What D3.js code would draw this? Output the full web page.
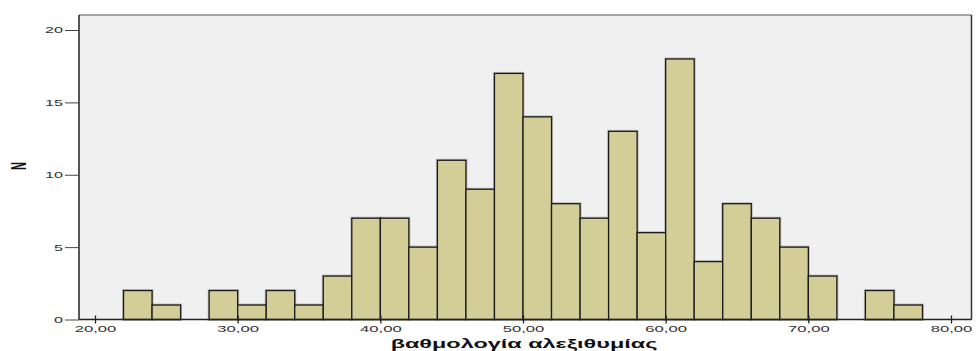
<!DOCTYPE html>
<html><head><meta charset="utf-8">
<script src="https://cdn.jsdelivr.net/npm/d3@7"></script>
<style>body{margin:0;background:#fff}svg{display:block}</style>
</head><body>
<script>
const binStarts = [22,24,26,28,30,32,34,36,38,40,42,44,46,48,50,52,54,56,58,60,62,64,66,68,70,72,74,76];
const counts    = [2,1,0,2,1,2,1,3,7,7,5,11,9,17,14,8,7,13,6,18,4,8,7,5,3,0,2,1];
const binWidth = 2;
const xTicks = [20,30,40,50,60,70,80];
const yTicks = [0,5,10,15,20];
const xTitle = "βαθμολογία αλεξιθυμίας";
const yTitle = "N";

(function(){
const W = 977, H = 351;
const FONT = "Liberation Sans, Arial, sans-serif";
const svg = d3.select("body").append("svg").attr("width", W).attr("height", H);
const x = d3.scaleLinear().domain([20, 80]).range([95, 951]);
const y = d3.scaleLinear().domain([0, 20]).range([319.5, 30]);
const pL = 79, pR = 971.5, pT = 15, pB = 319.5;

// horizontal stretch around anchor x
function stretch(sel, sx) {
  sel.each(function() {
    const ax = +(this.getAttribute("x") || 0);
    this.setAttribute("transform", `translate(${ax},0) scale(${sx},1) translate(${-ax},0)`);
  });
}

svg.append("rect").attr("x", pL).attr("y", pT).attr("width", pR-pL).attr("height", pB-pT)
  .attr("fill", "#f0f0f0");
svg.append("line").attr("x1", pL).attr("x2", pR).attr("y1", pT).attr("y2", pT)
  .attr("stroke", "#8a8a8a").attr("stroke-width", 1.5);
svg.append("line").attr("x1", pR).attr("x2", pR).attr("y1", pT).attr("y2", pB)
  .attr("stroke", "#333").attr("stroke-width", 1.5);

const data = binStarts.map((s, i) => ({s, c: counts[i]})).filter(d => d.c > 0);
svg.append("g").selectAll("rect").data(data).join("rect")
  .attr("x", d => x(d.s)).attr("y", d => y(d.c))
  .attr("width", d => x(d.s + binWidth) - x(d.s)).attr("height", d => y(0) - y(d.c))
  .attr("fill", "none").attr("stroke", "#9a9a9a").attr("stroke-width", 3).attr("opacity", 0.6);
svg.append("g").selectAll("rect").data(data).join("rect")
  .attr("x", d => x(d.s)).attr("y", d => y(d.c))
  .attr("width", d => x(d.s + binWidth) - x(d.s)).attr("height", d => y(0) - y(d.c))
  .attr("fill", "#d3ce97").attr("stroke", "#1a1a1a").attr("stroke-width", 1.3);

const yAxis = svg.append("g").attr("transform", `translate(${pL},0)`)
  .call(d3.axisLeft(y).tickValues(yTicks).tickSize(14).tickPadding(2).tickFormat(d3.format("d")));
yAxis.select(".domain").attr("d", `M0,${pT}V${pB}`).attr("stroke", "#222").attr("stroke-width", 1.5);
yAxis.selectAll(".tick line").attr("stroke", "#444");
yAxis.selectAll("text").attr("font-family", FONT).attr("font-size", 9).attr("fill", "#333");
stretch(yAxis.selectAll("text"), 1.8);

const xAxis = svg.append("g").attr("transform", `translate(0,${pB})`)
  .call(d3.axisBottom(x).tickValues(xTicks).tickSize(4).tickPadding(2)
    .tickFormat(d => d3.format(".2f")(d).replace(".", ",")));
xAxis.select(".domain").attr("d", `M${pL},0H${pR}`).attr("stroke", "#222").attr("stroke-width", 1.5);
xAxis.selectAll(".tick line").attr("y1", -4).attr("y2", 4).attr("stroke", "#222").attr("stroke-width", 1.3);
xAxis.selectAll("text").attr("font-family", FONT).attr("font-size", 9).attr("fill", "#333");
stretch(xAxis.selectAll("text"), 1.85);

const tt = svg.append("text").attr("x", 524).attr("y", 348).attr("text-anchor", "middle")
  .attr("font-family", FONT).attr("font-weight", "bold").attr("font-size", 13)
  .attr("fill", "#111").text(xTitle);
const tw = tt.node().getComputedTextLength();
stretch(tt, 267 / tw);

svg.append("text").attr("transform", "translate(18,166) scale(2,1) rotate(-90)").attr("text-anchor", "middle")
  .attr("dy", "0.36em")
  .attr("font-family", FONT).attr("font-weight", "bold").attr("font-size", 11)
  .attr("fill", "#111").text(yTitle);
})();
</script>
</body></html>
